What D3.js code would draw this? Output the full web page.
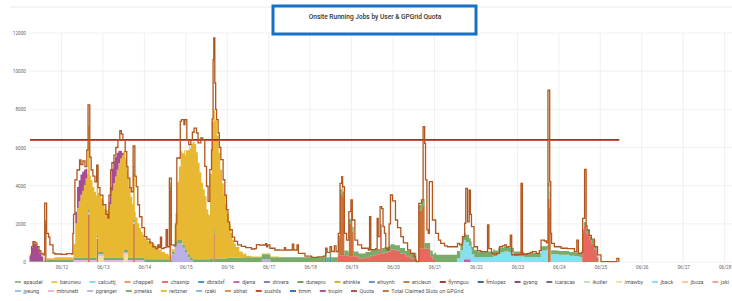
<!DOCTYPE html>
<html><head><meta charset="utf-8">
<script src="https://cdn.jsdelivr.net/npm/d3@7"></script>
<style>body{margin:0;background:#fff;} svg{display:block;font-family:Roboto,"Noto Sans",sans-serif;}</style>
</head><body><svg id="c" width="732" height="301"></svg>
<script>
const title = "Onsite Running Jobs by User & GPGrid Quota";
const users = ["apaudel","baronwu","calcuttj","chappell","chasnip","dbrailsf","djena","drivera","dunepro","ehinkle",
  "ehuynh","ericleon","flynnguo","fmlopez","gyang","icaracas","ikotler","imawby","jback","jboza","jski",
  "jyeung","mbrunett","pgranger","pmelas","reitzner","rzaki","sbhat","sushils","timm","tropin"];
const userColors = ["#7EB26D","#EAB839","#6ED0E0","#EF843C","#E24D42","#1F78C1","#BA43A9","#705DA0","#508642","#CCA300",
  "#447EBC","#C15C17","#890F02","#0A437C","#6D1F62","#584477","#B7DBAB","#F4D598","#70DBED","#F9BA8F","#F29191",
  "#82B5D8","#E5A8E2","#AEA2E0","#629E51","#E5AC0E","#64B0C8","#E0752D","#BF1B00","#0A50A1","#962D82"];
const quotaName = "Quota", totalName = "Total Claimed Slots on GPGrid";
const quotaColor = "#A82A1F", totalColor = "#B0561E";
const yTicks = [0,2000,4000,6000,8000,10000,12000];
const dayTicks = ["06/12","06/13","06/14","06/15","06/16","06/17","06/18","06/19","06/20","06/21","06/22","06/23","06/24","06/25","06/26","06/27","06/28"];
const quotaValue = 6400;
const quotaSpan = [5.8, 347];

// [hours since 06/11 00:00, running jobs] (stepped samples)
const pmelas = [[5.6,40],[14,100],[30,130],[72,150],[110,180],[120,220],[130,250],[184,250],[200,280],[229.5,0],[230.8,300],[240,380],[256,380],[265,300],[275,250],[290,220],[310,200],[334.4,0]];
const reitzner = [[6,0],[14,100],[20,150],[26,150],[30,100],[31,700],[32,1800],[33,2600],[34,2950],[35,3300],[36,3500],[37,3800],[38,4150],[39,4400],[40,4300],[41,4050],[42,3700],[43,3450],[44,3250],[45,3100],[46,2950],[47,2800],[48,2700],[49,2550],[50,2480],[51,2600],[52,2800],[53,3500],[54,3900],[55,4250],[56,4600],[57,4950],[58,5200],[59,5350],[60,5200],[61,4800],[62,4200],[63,3700],[64,3200],[65,2800],[66,2400],[67,2100],[68,1800],[69,1550],[70,1350],[71,1200],[72,1100],[73,1000],[74,950],[76,800],[78,650],[80,500],[82,380],[84,280],[86,180],[88,120],[89.5,900],[90,1500],[91,3050],[92,3850],[93,4650],[94,4800],[95,4950],[96,5200],[97,5450],[98,5700],[99,5950],[100,6150],[101,6050],[102,5600],[103,5050],[104,4550],[105,4000],[106,3650],[107,3300],[108,2600],[109,2330],[110,4450],[111,7150],[112,6300],[112.8,7250],[114,6450],[115,5550],[116,4650],[117,3950],[118,3400],[119,2850],[120,2300],[121,1750],[122,1300],[123,950],[124,750],[125,560],[127,330],[129,200],[131,80],[134,40],[150,0]];
const tropin = [[5.5,300],[6.5,700],[7.5,950],[8.5,900],[9.5,750],[10.5,600],[11.5,400],[12.5,250],[13.5,0],[32,600],[33,1100],[34,1100],[35,1050],[36,1000],[37,800],[38,500],[39,0],[51.5,300],[52,900],[53,1150],[54,1150],[55,1050],[56,900],[57,650],[58,400],[59,150],[60,0]];
const pgranger = [[88,400],[89.5,900],[91,1000],[92.5,1000],[94,750],[95.5,500],[97,250],[98.5,100],[100,0],[140,150],[145,0]];
const mbrunett = [[31,100],[72,0]];
const imawby = [[45.2,300],[48.5,0],[60,400],[62.5,0]];
const dbrailsf = [[176.5,250],[177.5,0],[179.3,250],[180.2,0]];
const djena = [[257,150],[261,0]];
const ericleon = [[14.3,2000],[15.4,0],[39.4,2500],[40.4,0],[44.4,1200],[45.2,0],[65.5,2000],[66.5,0],[86.5,3800],[87.6,0],[112,1500],[112.8,0],[184.3,800],[185.3,3200],[186.3,3500],[186.8,3100],[187.8,0],[190.4,1700],[191.6,2300],[192.4,1300],[193.2,0],[230.9,2000],[232.5,2200],[233.4,2300],[234.3,0],[305.7,3300],[306.7,2800],[307.3,0]];
const chasnip = [[184,350],[188,350],[190,300],[194,300],[196,200],[200,250],[203,350],[206,400],[208.5,1700],[209.5,450],[211,500],[213,550],[214.5,650],[217,600],[220,450],[223,300],[226,200],[229.5,0],[230.8,700],[236,700],[237.5,300],[239,100],[241,0],[325.5,1500],[326.5,1900],[327.8,1500],[329.5,1150],[331,950],[332.6,650],[334,250],[335,0]];
const jback = [[252,0],[253,200],[255,600],[256.5,1000],[258,900],[260,700],[261.5,400],[263,250],[268,250],[274,350],[277,500],[280,550],[283,500],[286,300],[292,250],[298,250],[301.5,600],[305,650],[307.5,400],[312,380],[318,330],[321,300],[324,250],[325.5,0]];
const total = [[5.8,370],[6.7,800],[7.5,1060],[8.7,1000],[9.8,800],[11,600],[12.1,450],[13.3,370],[14.3,3090],[15.4,1500],[16.5,1300],[17.3,900],[19.1,470],[20.2,420],[24,400],[27,440],[30,420],[30.6,1500],[31,2500],[31.8,4300],[33,4820],[34.5,5350],[35.3,5100],[36.4,5300],[37.6,5000],[38.7,5870],[39.4,8230],[40.4,5500],[41.2,4820],[42.2,4500],[43.4,4200],[44.4,5080],[45.2,3900],[46.3,3500],[48,3000],[49.7,2500],[50.9,2300],[51.5,3500],[52.5,4820],[53.2,5200],[54.4,5600],[55.5,6000],[56.7,6390],[57.8,6880],[58.7,6700],[59.6,6390],[60.9,5780],[61.8,5000],[62.5,4400],[63.6,3900],[64.4,3680],[65.5,6080],[66.5,4500],[67.3,3950],[68.2,3000],[69.2,2370],[70.6,1800],[72.1,1330],[73.4,1200],[75.2,1000],[76.9,800],[78.6,700],[79.8,900],[80.5,750],[81.3,1300],[82,700],[83.3,750],[84.6,1690],[85.4,800],[86.5,4400],[87.6,900],[89.2,840],[90.2,2000],[90.8,5450],[92.8,7370],[93.5,7460],[94.9,7200],[95.5,7460],[96.6,6410],[97.7,6150],[98.9,6400],[99.8,6800],[100.8,7020],[102.2,6760],[103.1,6240],[104.7,6500],[105.8,6400],[107,5010],[108,3970],[108.9,3180],[109.9,4840],[110.9,5880],[111.3,7500],[111.8,10600],[112.2,11740],[112.8,9380],[113.3,8000],[113.8,7460],[114.7,6760],[115.4,6000],[116.3,5360],[117.6,4310],[118.6,3500],[119.5,2740],[120.4,2100],[121.4,1690],[122.9,1300],[124.3,1080],[126,900],[128.2,820],[130.7,750],[134,680],[135.9,700],[136.9,910],[138.8,880],[140.5,890],[142.2,960],[142.8,800],[143.4,900],[144.7,720],[147.6,630],[150.4,620],[153.1,750],[153.8,630],[157.7,940],[158.5,630],[160.4,900],[161.2,450],[165,310],[168.9,240],[172.3,270],[175.6,310],[177,720],[177.8,500],[179.5,800],[180.4,550],[182,840],[183,550],[184.3,1500],[185.3,4120],[186.3,4470],[186.8,3950],[187.8,1500],[189.1,1150],[190.4,2640],[191.6,3250],[192.4,2200],[193.9,1150],[195.5,900],[197.8,720],[201.7,630],[202.4,2380],[203.1,650],[206,700],[206.8,2290],[207.4,1330],[208.5,2900],[209.4,2800],[210.2,1850],[211,1500],[211.8,700],[212.8,630],[213.7,2000],[214.5,3510],[215.7,3200],[217.4,2200],[218.6,1800],[220.5,1330],[222,1000],[224.4,630],[226.1,450],[228.2,280],[229,100],[229.5,20],[230.9,3070],[232.5,3250],[233.4,7090],[234.3,6220],[234.8,4300],[235.6,1680],[236.4,1500],[237,4210],[238,4210],[238.8,2200],[240.7,1500],[242.3,1150],[243.6,980],[245.8,850],[247.5,800],[252.1,800],[253.3,980],[254.5,900],[256.2,1330],[257.5,2030],[258.1,3860],[259.1,2100],[260.1,3770],[260.8,2500],[261.4,1850],[262.9,800],[264.9,600],[266.8,540],[269.5,540],[270.7,1940],[271.5,700],[273,450],[274.5,370],[275.8,450],[277.6,800],[279.3,850],[280.5,890],[281.6,780],[282.8,800],[283.9,1410],[284.7,380],[288.6,400],[290.1,4120],[290.9,400],[293.9,450],[295.5,500],[296.8,540],[298.9,450],[300.7,600],[301.7,1150],[303.6,1100],[304.8,1000],[305.7,9010],[306.7,4210],[307.3,1500],[307.8,980],[309.4,800],[313.3,720],[316.9,700],[321,540],[322.4,1150],[323.3,450],[325,500],[325.8,2290],[326.9,4850],[327.8,1900],[328.3,1680],[329.6,1400],[330.8,1200],[332.6,800],[334.4,370],[336.4,20],[345.6,190],[346.7,20],[347,20]];

const userData = {pmelas, reitzner, tropin, pgranger, mbrunett, imawby, dbrailsf, djena, ericleon, chasnip, jback};

const svg = d3.select("#c");
const t0 = Date.UTC(2023,5,11);
const hToDate = h => new Date(t0 + h*3600000);
const x = d3.scaleUtc().domain([new Date(t0), hToDate(17*24)]).range([20, 20+17*41.45]);
const y = d3.scaleLinear().domain([0,12000]).range([262,33]);
const gridColor = "#ececec";

svg.append("line").attr("x1",10).attr("x2",732).attr("y1",7).attr("y2",7).attr("stroke","#eaeaea");

const tickDates = dayTicks.map(s => d3.utcParse("%Y/%m/%d")("2023/"+s));
svg.append("g").selectAll("line").data(yTicks).join("line")
  .attr("x1",29).attr("x2",732).attr("y1",d=>y(d)).attr("y2",d=>y(d))
  .attr("stroke",gridColor).attr("stroke-width",0.8);
svg.append("g").selectAll("line").data(tickDates).join("line")
  .attr("x1",d=>x(d)).attr("x2",d=>x(d)).attr("y1",33).attr("y2",262)
  .attr("stroke",gridColor).attr("stroke-width",0.8);

const ya = svg.append("g").attr("transform","translate(29,0)")
  .call(d3.axisLeft(y).tickValues(yTicks).tickSize(0).tickPadding(3).tickFormat(d3.format("d")));
ya.select(".domain").remove();
ya.selectAll("text").attr("font-size",4.7).attr("fill","#666").attr("font-family","Roboto");
const xa = svg.append("g").attr("transform","translate(0,262)")
  .call(d3.axisBottom(x).tickValues(tickDates).tickSize(0).tickPadding(4).tickFormat(d3.utcFormat("%m/%d")));
xa.select(".domain").remove();
xa.selectAll("text").attr("font-size",4.7).attr("fill","#666").attr("font-family","Roboto");

const stepVal = (arr, t) => { let v = 0; for (const [h,val] of arr) { if (h <= t) v = val; else break; } return v; };
const hours = Array.from(new Set(Object.values(userData).flat().map(d=>d[0]))).sort((a,b)=>a-b);
const rows = hours.map(t => { const r = {t}; users.forEach(u => r[u] = userData[u] ? stepVal(userData[u], t) : 0); return r; });
const stacked = d3.stack().keys(users)(rows);

svg.append("defs").append("clipPath").attr("id","plot").append("rect")
  .attr("x",29).attr("y",30).attr("width",703).attr("height",232.5);
const plot = svg.append("g").attr("clip-path","url(#plot)");
const area = d3.area().x(d=>x(hToDate(d.data.t))).y0(d=>y(d[0])).y1(d=>y(d[1])).curve(d3.curveStepAfter);
plot.selectAll("path.layer").data(stacked.filter(s => userData[s.key])).join("path")
  .attr("class","layer").attr("d",area)
  .attr("fill",s=>userColors[users.indexOf(s.key)]).attr("fill-opacity",0.85);

const line = d3.line().x(d=>x(hToDate(d[0]))).y(d=>y(d[1])).curve(d3.curveStepAfter);
plot.append("path").attr("d",line(quotaSpan.map(h=>[h,quotaValue])))
  .attr("fill","none").attr("stroke",quotaColor).attr("stroke-width",1.6);
plot.append("path").attr("d",line(total))
  .attr("fill","none").attr("stroke",totalColor).attr("stroke-width",1.3).attr("stroke-linejoin","miter");

svg.append("rect").attr("x",273).attr("y",6).attr("width",203).attr("height",28)
  .attr("fill","#fff").attr("stroke","#1670C4").attr("stroke-width",3);
svg.append("text").attr("x",375).attr("y",19).attr("text-anchor","middle")
  .attr("font-size",6.6).attr("font-weight",500).attr("fill","#333").text(title);

const legNames = users.concat([quotaName,totalName]);
const legColors = userColors.concat([quotaColor,totalColor]);
const rowsLeg = [legNames.slice(0,21), legNames.slice(21)];
const rowY = [282, 291];
const leg = svg.append("g");
rowsLeg.forEach((names, ri) => {
  let cx = 15;
  names.forEach(n => {
    const c = legColors[legNames.indexOf(n)];
    leg.append("line").attr("x1",cx).attr("x2",cx+6).attr("y1",rowY[ri]).attr("y2",rowY[ri])
      .attr("stroke",c).attr("stroke-width",1.6);
    const t = leg.append("text").attr("x",cx+8.5).attr("y",rowY[ri]+1.9)
      .attr("font-size",5.4).attr("fill","#555").text(n);
    cx = cx + 8.5 + t.node().getComputedTextLength() + 8.8;
  });
});
</script></body></html>
